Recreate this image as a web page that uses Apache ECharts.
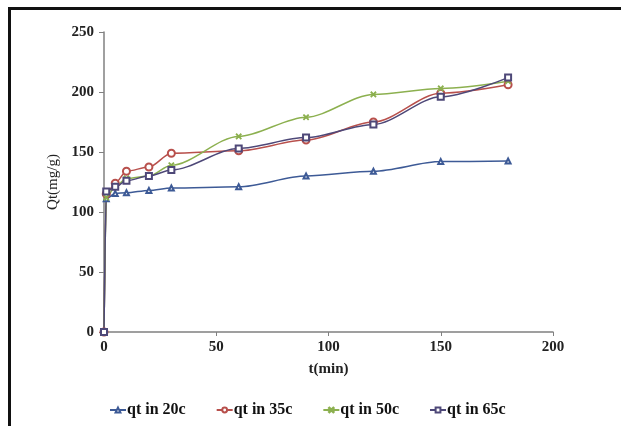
<!DOCTYPE html>
<html>
<head>
<meta charset="utf-8">
<script src="https://cdn.jsdelivr.net/npm/echarts@6/dist/echarts.min.js"></script>
<style>
  html, body { margin: 0; padding: 0; background: #fff; }
  #chart { width: 621px; height: 426px; }
</style>
</head>
<body>
<div id="chart"></div>
<script>
// sampling times (min)
var times = [0, 1, 5, 10, 20, 30, 60, 90, 120, 150, 180];
// qt values (mg/g)
var qt20 = [0, 111, 115.5, 116, 118, 120, 121, 130, 134, 142, 142.5];
var qt35 = [0, 115, 124, 134, 137.5, 149, 151, 160, 175, 199, 206];
var qt50 = [0, 112, 121, 128, 130, 139, 163, 179, 198, 203, 209];
var qt65 = [0, 117, 121, 126, 130, 135, 153, 162, 173, 196, 212];
var seriesNames = ["qt in 20c", "qt in 35c", "qt in 50c", "qt in 65c"];
var xTicks = [0, 50, 100, 150, 200];
var yTicks = [0, 50, 100, 150, 200, 250];

function pairs(vals) {
  return times.map(function(t, i) {
    return [t, vals[i]];
  });
}

var chart = echarts.init(document.getElementById("chart"));
var crossPath = "path://M0,1L1,0L5,4L9,0L10,1L6,5L10,9L9,10L5,6L1,10L0,9L4,5Z";

function makeSeries(name, vals, color, symbol, size) {
  return {
    name: name,
    type: "line",
    data: pairs(vals),
    smooth: 0.3,
    smoothMonotone: "x",
    symbol: symbol,
    symbolSize: size,
    showAllSymbol: true,
    lineStyle: { color: color, width: 1.5 },
    itemStyle: { color: color, borderColor: color, borderWidth: 1.1 }
  };
}

var option = {
  animation: false,
  backgroundColor: "#fff",
  textStyle: { fontFamily: "Liberation Serif" },
  grid: { left: 104, right: 68, top: 32, bottom: 94 },
  graphic: [
    { type: "rect", shape: { x: 8, y: 7, width: 613, height: 3 }, style: { fill: "#111" } },
    { type: "rect", shape: { x: 8, y: 7, width: 3, height: 419 }, style: { fill: "#111" } }
  ],
  legend: {
    bottom: 3,
    left: 104,
    itemGap: 30,
    itemWidth: 16,
    itemHeight: 6,
    data: seriesNames,
    textStyle: { fontFamily: "Liberation Serif", fontSize: 16, fontWeight: "bold", color: "#111", padding: [0, 0, 0, -4] }
  },
  xAxis: {
    type: "value",
    min: xTicks[0],
    max: xTicks[xTicks.length - 1],
    interval: 50,
    name: "t(min)",
    nameLocation: "middle",
    nameGap: 30,
    nameTextStyle: { fontFamily: "Liberation Serif", fontSize: 15, fontWeight: "bold", color: "#222" },
    axisLine: { lineStyle: { color: "#808080", width: 1.5 } },
    axisTick: { show: true, length: 4, lineStyle: { color: "#808080" } },
    axisLabel: { fontFamily: "Liberation Serif", fontSize: 15, fontWeight: "bold", color: "#222", margin: 8 },
    splitLine: { show: false }
  },
  yAxis: {
    type: "value",
    min: yTicks[0],
    max: yTicks[yTicks.length - 1],
    interval: 50,
    name: "Qt(mg/g)",
    nameLocation: "middle",
    nameGap: 32,
    nameRotate: 90,
    nameTextStyle: { fontFamily: "Liberation Serif", fontSize: 15, color: "#222" },
    axisLine: { show: true, lineStyle: { color: "#808080", width: 1.5 } },
    axisTick: { show: true, length: 5, lineStyle: { color: "#808080" } },
    axisLabel: { fontFamily: "Liberation Serif", fontSize: 15, fontWeight: "bold", color: "#222", margin: 10 },
    splitLine: { show: false }
  },
  series: [
    makeSeries(seriesNames[0], qt20, "#3D5A96", "emptyTriangle", 5),
    makeSeries(seriesNames[1], qt35, "#B8504C", "emptyCircle", 7),
    makeSeries(seriesNames[2], qt50, "#8CB04F", crossPath, 5),
    makeSeries(seriesNames[3], qt65, "#4E4878", "emptyRect", 6)
  ]
};

chart.setOption(option);
window.addEventListener("resize", () => {
  chart.resize();
});
</script>
</body>
</html>
